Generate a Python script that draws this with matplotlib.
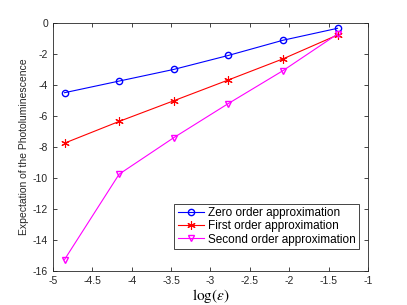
import numpy as np
import matplotlib
matplotlib.use('Agg')
import matplotlib.pyplot as plt

# x = log(eps), eps = 2^-7 ... 2^-2
log_eps = [-4.852, -4.159, -3.466, -2.773, -2.079, -1.386]
zero_order = [-4.5, -3.75, -3.0, -2.1, -1.12, -0.35]
first_order = [-7.75, -6.35, -5.02, -3.68, -2.32, -0.78]
second_order = [-15.25, -9.75, -7.4, -5.2, -3.08, -0.72]
labels = ['Zero order approximation', 'First order approximation',
          'Second order approximation']

plt.rcParams['font.family'] = ['Liberation Sans', 'DejaVu Sans']
plt.rcParams['mathtext.fontset'] = 'stix'

fig = plt.figure(figsize=(4.07, 3.05), dpi=100)
fig.set_facecolor('#FFFFFF')
ax = fig.add_axes([0.130, 0.111, 0.774, 0.814])

ax.plot(log_eps, zero_order, color='#0000FF', marker='o', markersize=4.5,
        markerfacecolor='none', linewidth=0.8, label=labels[0])
# MATLAB style asterisk marker
ax.plot(log_eps, first_order, color='#FF0000', marker=(6, 2, 0), markersize=6,
        markeredgewidth=0.8, linewidth=0.8, label=labels[1])
ax.plot(log_eps, second_order, color='#FF00FF', marker='v', markersize=5,
        markerfacecolor='none', linewidth=0.8, label=labels[2])

ax.set_xlim(-5, -1)
ax.set_ylim(-16, 0)
ax.set_xticks(np.arange(-5, -0.9, 0.5))
ax.set_xticklabels(['-5', '-4.5', '-4', '-3.5', '-3', '-2.5', '-2', '-1.5', '-1'])
ax.set_yticks(np.arange(-16, 1, 2))
ax.set_yticklabels([str(v) for v in range(-16, 1, 2)])
ax.tick_params(direction='in', top=True, right=True, labelsize=7.5,
               colors='#262626', length=3, width=0.6)
for s in ax.spines.values():
    s.set_linewidth(0.6)
    s.set_color('#262626')

ax.set_xlabel(r'$\log(\epsilon)$', fontsize=11, labelpad=1)
ax.set_ylabel('Expectation of the Photoluminescence', fontsize=7.5,
              color='#262626', labelpad=3)

leg = ax.legend(loc='lower right', bbox_to_anchor=(0.971, 0.089), fontsize=8.5,
                fancybox=False, edgecolor='#262626', framealpha=1,
                borderpad=0.3, labelspacing=0.1, handlelength=2.2,
                handletextpad=0.3, borderaxespad=0)
leg.get_frame().set_linewidth(0.6)

fig.savefig('out.png', dpi=100)
